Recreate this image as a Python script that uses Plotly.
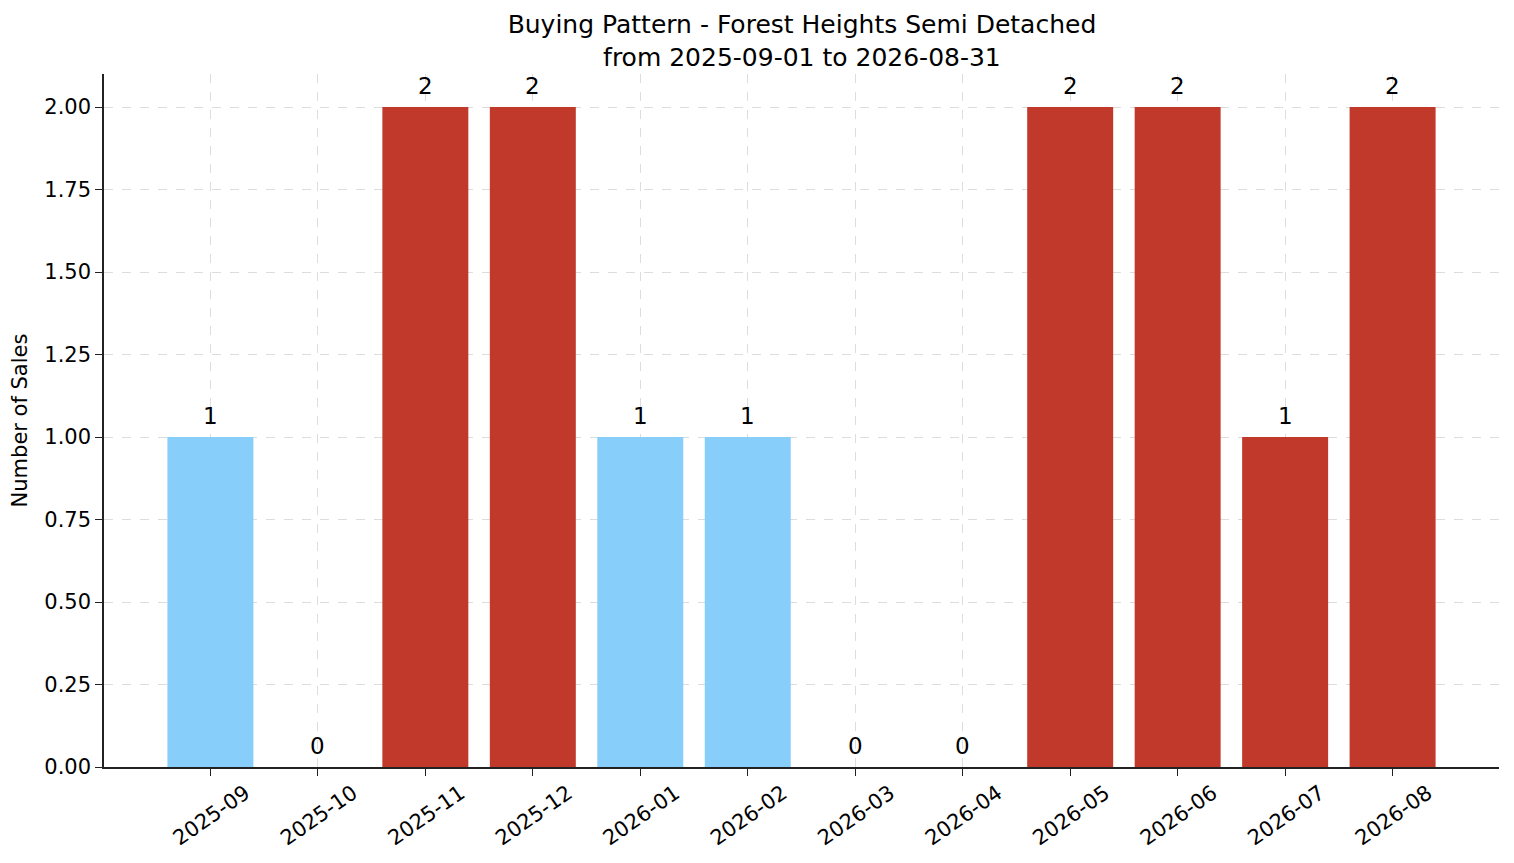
import plotly.graph_objects as go

# datos del gráfico
months = ["2025-09", "2025-10", "2025-11", "2025-12", "2026-01", "2026-02",
          "2026-03", "2026-04", "2026-05", "2026-06", "2026-07", "2026-08"]
sales = [1, 0, 2, 2, 1, 1, 0, 0, 2, 2, 1, 2]
bar_colors = ["#87CEFA", "#87CEFA", "#C0392B", "#C0392B", "#87CEFA", "#87CEFA",
              "#87CEFA", "#87CEFA", "#C0392B", "#C0392B", "#C0392B", "#C0392B"]
y_ticks = [0, 0.25, 0.5, 0.75, 1.0, 1.25, 1.5, 1.75, 2.0]

font_family = "DejaVu Sans"

fig = go.Figure()

fig.add_trace(go.Bar(x=months, y=sales, marker=dict(color=bar_colors, line=dict(width=0)),
                     width=0.8, showlegend=False))

# etiquetas encima de cada barra
for m, v in zip(months, sales):
    fig.add_annotation(x=m, y=v, text=str(v), showarrow=False, yanchor="bottom",
                       yshift=6, font=dict(family=font_family, size=23, color="black"))

fig.update_xaxes(type="category", range=[-0.99, 11.99], tickangle=-35, ticks="outside", ticklen=7,
                 tickcolor="#222", tickfont=dict(family=font_family, size=21, color="black"),
                 ticklabelshift=35, ticklabelstandoff=-3, automargin=False,
                 showline=True, linecolor="#222", linewidth=1.5,
                 showgrid=True, gridcolor="#dddddd", griddash="dash", gridwidth=1)
fig.update_yaxes(range=[0, 2.1], tickvals=y_ticks, tickformat=".2f", ticks="outside", ticklen=7,
                 tickcolor="#222", tickfont=dict(family=font_family, size=21, color="black"),
                 showline=True, linecolor="#222", linewidth=1.5, zeroline=False, automargin=False,
                 showgrid=True, gridcolor="#dddddd", griddash="dash", gridwidth=1,
                 title=dict(text="Number of Sales", font=dict(family=font_family, size=21, color="black"),
                            standoff=12))

fig.update_layout(
    title=dict(text="Buying Pattern - Forest Heights Semi Detached<br>from 2025-09-01 to 2026-08-31",
               font=dict(family=font_family, size=25, color="black"), x=0.530, xanchor="center",
               y=0.970, yanchor="middle"),
    width=1498, height=847,
    margin=dict(l=96, r=7, t=66, b=88),
    paper_bgcolor="white", plot_bgcolor="white",
    bargap=0.2,
)

fig.write_html("out.html")
